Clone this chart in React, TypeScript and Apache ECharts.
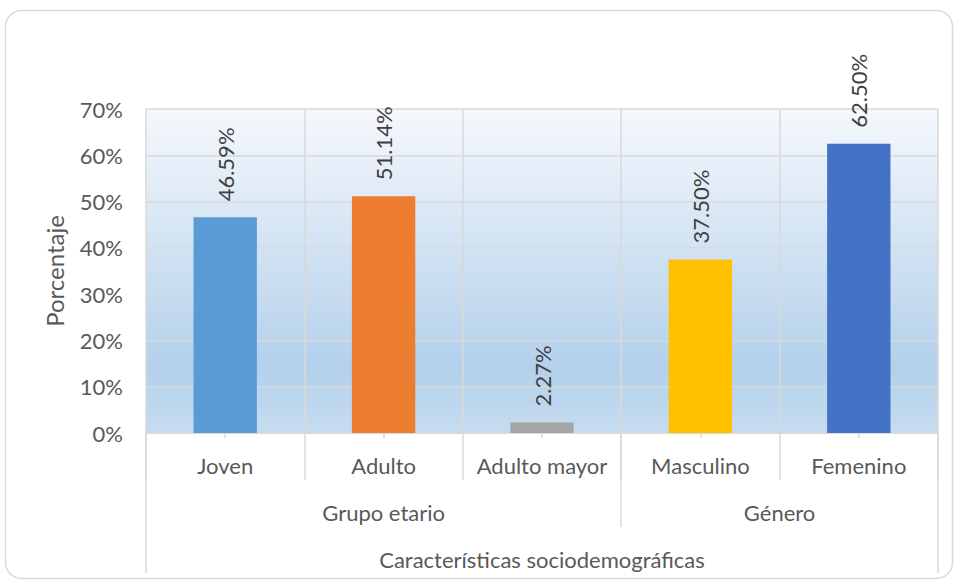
import React, { useEffect, useRef } from "react";
import * as echarts from "echarts";

const categories = ["Joven", "Adulto", "Adulto mayor", "Masculino", "Femenino"];
const values = [46.59, 51.14, 2.27, 37.5, 62.5];
const barColors = ["#5B9BD5", "#ED7D31", "#A5A5A5", "#FFC000", "#4472C4"];
const groupNames = ["Grupo etario", "Género"];
const groupCenters = [1.5, 4];
const groupBoundaries = [3];
const outerBoundaries = [0, 5];
const yTicks = [0, 10, 20, 30, 40, 50, 60, 70];
const axisTitle = "Características sociodemográficas";
const yTitle = "Porcentaje";

const FONT = "Lato, 'Open Sans', sans-serif";
const GRID_LINE = "#d9d9d9";

export default function App() {
  const ref = useRef<HTMLDivElement>(null);
  useEffect(() => {
    if (!ref.current) return;
    const chart = echarts.init(ref.current, null, { renderer: "svg" });
    chart.setOption({
      animation: false,
      textStyle: { fontFamily: FONT },
      graphic: [
        {
          type: "rect",
          shape: { x: 5.5, y: 10.5, width: 947, height: 568, r: 16 },
          style: { fill: "none", stroke: "#d9d9d9", lineWidth: 1.5 },
          z: -10,
        },
      ],
      grid: {
        left: 146,
        right: 17,
        top: 109,
        bottom: 147,
        show: true,
        borderWidth: 0,
        backgroundColor: new echarts.graphic.LinearGradient(0, 0, 0, 1, [
          { offset: 0, color: "#f5f8fc" },
          { offset: 0.8, color: "#b3d0eb" },
          { offset: 1, color: "#c6dcf0" },
        ]),
      },
      xAxis: [
        {
          type: "category",
          data: categories,
          position: "bottom",
          axisLine: { show: true, lineStyle: { color: GRID_LINE, width: 1.5 } },
          axisTick: { show: true, interval: 0, alignWithLabel: true, length: 5, lineStyle: { color: GRID_LINE, width: 1.5 } },
          splitLine: { show: true, interval: 0, lineStyle: { color: GRID_LINE, width: 1.5 } },
          axisLabel: { interval: 0, color: "#595959", fontSize: 22, margin: 21, fontFamily: FONT },
        },
        {
          type: "category",
          data: categories,
          position: "bottom",
          axisLine: { show: false },
          axisTick: { show: true, interval: 0, length: 47, lineStyle: { color: GRID_LINE, width: 1.5 } },
          axisLabel: { show: false, interval: 0 },
          splitLine: { show: false },
        },
        {
          type: "value",
          min: 0,
          max: 5,
          position: "bottom",
          axisLine: { show: false },
          axisTick: { show: true, customValues: groupBoundaries, length: 94, lineStyle: { color: GRID_LINE, width: 1.5 } },
          axisLabel: {
            show: true,
            customValues: groupCenters,
            formatter: (v: number) => groupNames[groupCenters.indexOf(v)] ?? "",
            color: "#595959",
            fontSize: 22,
            margin: 68,
            fontFamily: FONT,
          },
          splitLine: { show: false },
        },
        {
          type: "value",
          min: 0,
          max: 5,
          position: "bottom",
          axisLine: { show: false },
          axisTick: { show: true, customValues: outerBoundaries, length: 140, lineStyle: { color: GRID_LINE, width: 1.5 } },
          axisLabel: { show: false },
          splitLine: { show: false },
          name: axisTitle,
          nameLocation: "middle",
          nameGap: 115,
          nameTextStyle: { color: "#595959", fontSize: 22, fontFamily: FONT },
        },
      ],
      yAxis: {
        type: "value",
        min: 0,
        max: 70,
        interval: 10,
        axisLine: { show: false },
        axisTick: { show: false },
        splitLine: { show: true, lineStyle: { color: GRID_LINE, width: 1.5 } },
        axisLabel: {
          color: "#595959",
          fontSize: 22,
          margin: 23,
          fontFamily: FONT,
          customValues: yTicks,
          formatter: (v: number) => `${v}%`,
        },
        name: yTitle,
        nameLocation: "middle",
        nameGap: 80,
        nameTextStyle: { color: "#595959", fontSize: 24, fontFamily: FONT },
      },
      series: [
        {
          type: "bar",
          xAxisIndex: 0,
          data: values.map((v, i) => ({ value: v, itemStyle: { color: barColors[i] } })),
          barWidth: "40%",
          label: {
            show: true,
            position: "top",
            rotate: 90,
            align: "left",
            verticalAlign: "middle",
            distance: 16,
            color: "#404040",
            fontSize: 22,
            fontFamily: FONT,
            formatter: (p: any) => `${p.value.toFixed(2)}%`,
          },
        },
      ],
    });
    return () => chart.dispose();
  }, []);
  return <div ref={ref} style={{ width: 955, height: 580, position: "absolute", left: 0, top: 0 }} />;
}
